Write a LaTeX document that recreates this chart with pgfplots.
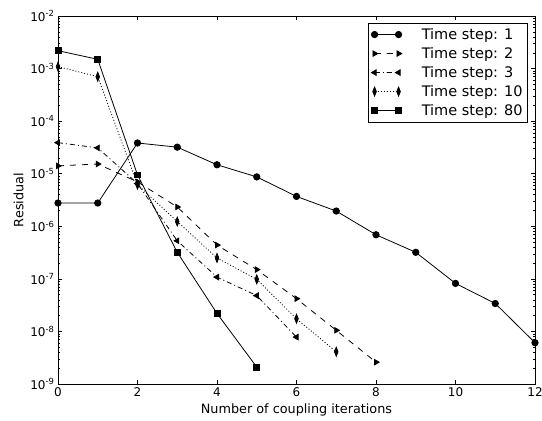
\documentclass[border=0pt]{standalone}
\usepackage{pgfplots}
\pgfplotsset{compat=1.18}
\usepackage{fontspec}
\setmainfont{DejaVu Sans}
\begin{document}
\begin{tikzpicture}
\begin{axis}[
  name=ax,
  scale only axis, width=477bp, height=368bp,
  ymode=log, xmin=0, xmax=12, ymin=1e-9, ymax=1e-2,
  xtick={0,2,4,6,8,10,12},
  ytick={1e-9,1e-8,1e-7,1e-6,1e-5,1e-4,1e-3,1e-2},
  yticklabels={10\textsuperscript{-9},10\textsuperscript{-8},10\textsuperscript{-7},10\textsuperscript{-6},10\textsuperscript{-5},10\textsuperscript{-4},10\textsuperscript{-3},10\textsuperscript{-2}},
  minor ytick={2e-9,3e-9,4e-9,5e-9,6e-9,7e-9,8e-9,9e-9,
    2e-8,3e-8,4e-8,5e-8,6e-8,7e-8,8e-8,9e-8,
    2e-7,3e-7,4e-7,5e-7,6e-7,7e-7,8e-7,9e-7,
    2e-6,3e-6,4e-6,5e-6,6e-6,7e-6,8e-6,9e-6,
    2e-5,3e-5,4e-5,5e-5,6e-5,7e-5,8e-5,9e-5,
    2e-4,3e-4,4e-4,5e-4,6e-4,7e-4,8e-4,9e-4,
    2e-3,3e-3,4e-3,5e-3,6e-3,7e-3,8e-3,9e-3},
  /pgf/number format/assume math mode=true,
  tick label style={font=\fontsize{12bp}{14bp}\selectfont},
  label style={font=\fontsize{12.8bp}{14bp}\selectfont},
  xlabel={Number of coupling iterations},
  ylabel={Residual},
  major tick length=4bp, minor tick length=2bp,
  tick style={black, line width=0.5pt},
  axis line style={line width=0.8pt},
  every axis plot/.append style={black, line width=0.8pt, mark size=3.2bp},
  legend style={at={(1,1)}, anchor=north east, xshift=-7bp, yshift=-7bp,
    font=\fontsize{14.5bp}{17bp}\selectfont, draw=black, line width=0.6pt,
    row sep=2.5bp, column sep=18bp, inner sep=3bp, nodes={inner sep=2bp}},
  legend cell align=left,
  legend image code/.code={\draw[mark repeat=2, mark phase=1, #1] plot coordinates {(0bp,0bp) (12bp,0bp) (24bp,0bp)};},
]
\addplot[solid, mark=*] coordinates {
 (0,2.77e-6) (1,2.77e-6) (2,3.84e-5) (3,3.2e-5) (4,1.48e-5) (5,8.7e-6) (6,3.7e-6)
 (7,1.95e-6) (8,6.9e-7) (9,3.2e-7) (10,8.2e-8) (11,3.4e-8) (12,6.1e-9)};
\addlegendentry{Time step: 1}
\addplot[dash pattern=on 6bp off 6bp, mark=triangle*, mark options={solid, rotate=-90}] coordinates {
 (0,1.41e-5) (1,1.53e-5) (2,7.0e-6) (3,2.33e-6) (4,4.4e-7) (5,1.5e-7) (6,4.2e-8) (7,1.05e-8) (8,2.6e-9)};
\addlegendentry{Time step: 2}
\addplot[dash pattern=on 5bp off 3bp on 1bp off 3bp, mark=triangle*, mark options={solid, rotate=90}] coordinates {
 (0,3.9e-5) (1,3.1e-5) (2,6.5e-6) (3,5.3e-7) (4,1.08e-7) (5,4.8e-8) (6,7.8e-9)};
\addlegendentry{Time step: 3}
\addplot[dash pattern=on 1bp off 2bp, mark=diamond*, mark options={solid, yscale=1.4, xscale=0.75}] coordinates {
 (0,1.09e-3) (1,7.0e-4) (2,6.2e-6) (3,1.23e-6) (4,2.5e-7) (5,9.8e-8) (6,1.74e-8) (7,4.1e-9)};
\addlegendentry{Time step: 10}
\addplot[solid, mark=square*, mark size=2.9bp] coordinates {
 (0,2.19e-3) (1,1.5e-3) (2,9.5e-6) (3,3.2e-7) (4,2.2e-8) (5,2.1e-9)};
\addlegendentry{Time step: 80}
\end{axis}
\pgfresetboundingbox
\path ([shift={(-58bp,-37bp)}]ax.south west) rectangle ([shift={(7bp,16bp)}]ax.north east);
\end{tikzpicture}
\end{document}
